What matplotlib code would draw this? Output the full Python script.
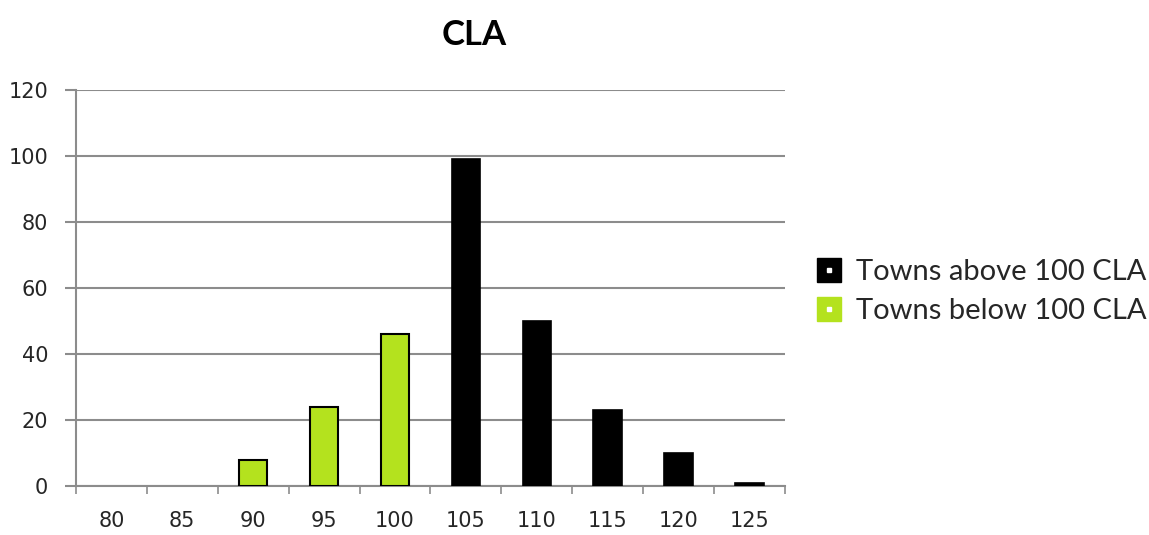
import numpy as np
import matplotlib.pyplot as plt
from matplotlib.lines import Line2D
from matplotlib.legend_handler import HandlerTuple

categories = ['80', '85', '90', '95', '100', '105', '110', '115', '120', '125']
above_100 = [0, 0, 0, 0, 0, 99, 50, 23, 10, 1]
below_100 = [0, 0, 8, 24, 46, 0, 0, 0, 0, 0]

GREEN = '#B4E21E'
GRID = '#8c8c8c'
TEXT = '#262626'

plt.rcParams['font.family'] = ['DejaVu Sans']

fig = plt.figure(figsize=(11.49, 5.35), dpi=100)
ax = fig.add_axes([0.0661, 0.0916, 0.617, 0.740])

x = np.arange(len(categories))
# empty categories get no bar at all
above_h = np.where(np.array(above_100) > 0, above_100, np.nan)
below_h = np.where(np.array(below_100) > 0, below_100, np.nan)
ax.bar(x, above_h, width=0.4, color='black', edgecolor='black', linewidth=1.2, zorder=3)
ax.bar(x, below_h, width=0.4, color=GREEN, edgecolor='black', linewidth=1.5, zorder=3)

ax.set_xlim(-0.5, len(categories) - 0.5)
ax.set_ylim(0, 120)
ax.set_yticks(np.arange(0, 121, 20))
ax.yaxis.grid(True, color=GRID, linewidth=1.5, zorder=0)
ax.set_axisbelow(True)

# ticks between categories, labels in the middle
ax.set_xticks(np.arange(-0.5, len(categories), 1.0))
ax.set_xticklabels([])
ax.set_xticks(x, minor=True)
ax.set_xticklabels(categories, minor=True)
ax.tick_params(axis='x', which='minor', length=0, pad=18, labelsize=15, labelcolor=TEXT)
ax.tick_params(axis='x', which='major', length=6, width=1.2, color=GRID, direction='out')
ax.tick_params(axis='y', length=8, width=1.5, color=GRID, pad=12, labelsize=15, labelcolor=TEXT)

for s in ['top', 'right']:
    ax.spines[s].set_visible(False)
for s in ['left', 'bottom']:
    ax.spines[s].set_color(GRID)
    ax.spines[s].set_linewidth(1.5)

fig.suptitle('CLA', x=0.413, y=0.965, fontsize=25, fontweight='bold', color='black',
             family=['Lato', 'DejaVu Sans'])

h_black = (Line2D([], [], marker='s', linestyle='none', markersize=17, markerfacecolor='black', markeredgecolor='black'),
           Line2D([], [], marker='s', linestyle='none', markersize=3.5, markerfacecolor='white', markeredgecolor='white'))
h_green = (Line2D([], [], marker='s', linestyle='none', markersize=17, markerfacecolor=GREEN, markeredgecolor=GREEN),
           Line2D([], [], marker='s', linestyle='none', markersize=3.5, markerfacecolor='white', markeredgecolor='white'))
fig.legend([h_black, h_green], ['Towns above 100 CLA', 'Towns below 100 CLA'],
           handler_map={tuple: HandlerTuple(ndivide=1, pad=0)},
           loc='center left', bbox_to_anchor=(0.687, 0.455), frameon=False,
           prop={'family': ['Lato', 'DejaVu Sans'], 'size': 21},
           handlelength=0.9, handletextpad=0.5, labelspacing=0.45,
           labelcolor=TEXT)

fig.savefig('out.png', dpi=100)
